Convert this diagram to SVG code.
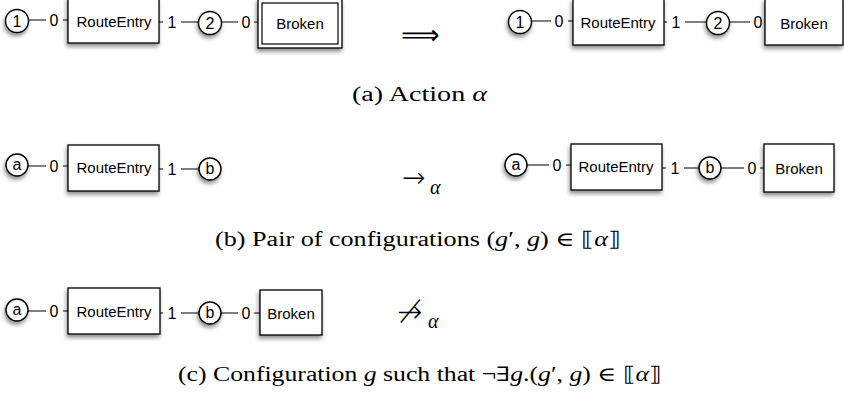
<svg xmlns="http://www.w3.org/2000/svg" width="844" height="403" viewBox="0 0 844 403">
<defs>
<filter id="sh" x="-30%" y="-30%" width="160%" height="170%">
<feDropShadow dx="-1" dy="3" stdDeviation="2" flood-color="#000" flood-opacity="0.45"/>
</filter>
<style>
.box{fill:#fff;stroke:#000;stroke-width:1.3}
.inner{fill:none;stroke:#000;stroke-width:1.2}
.port{fill:#fff;stroke:#000;stroke-width:1.4}
.edge{stroke:#000;stroke-width:1.2;fill:none}
.lbg{fill:#fff}
.t{font-family:"Liberation Sans",Arial,sans-serif;font-size:15px;fill:#000;text-anchor:middle}
.lb{font-family:"Liberation Sans",Arial,sans-serif;font-size:16px;fill:#000;text-anchor:middle}
.pt{font-family:"Liberation Sans",Arial,sans-serif;font-size:16px;fill:#000;text-anchor:middle}
.cap{font-family:"Liberation Serif","DejaVu Serif",serif;font-size:20px;fill:#000}
.m{font-style:italic}
.sym{font-family:"DejaVu Sans","Liberation Serif",serif;font-weight:200;fill:#000}
</style>
</defs>

<!-- connectors -->
<g id="connectors">
<line class="edge" x1="29" y1="20" x2="68" y2="20"/>
<line class="edge" x1="159" y1="22" x2="198" y2="22"/>
<line class="edge" x1="222" y1="22" x2="258" y2="22"/>
<line class="edge" x1="532" y1="21" x2="573" y2="21"/>
<line class="edge" x1="664" y1="22" x2="706" y2="22"/>
<line class="edge" x1="730" y1="22" x2="765" y2="22"/>
<line class="edge" x1="28" y1="166" x2="68" y2="166"/>
<line class="edge" x1="159" y1="169" x2="199" y2="169"/>
<line class="edge" x1="527" y1="165" x2="571" y2="165"/>
<line class="edge" x1="662" y1="168" x2="699" y2="168"/>
<line class="edge" x1="721" y1="168" x2="764" y2="168"/>
<line class="edge" x1="28" y1="311" x2="68" y2="311"/>
<line class="edge" x1="160" y1="313" x2="199" y2="313"/>
<line class="edge" x1="221" y1="313" x2="260" y2="313"/>
<rect class="lbg" x="46" y="11" width="17" height="18"/><text class="lb" x="54" y="26">0</text>
<rect class="lbg" x="163" y="13" width="18" height="18"/><text class="lb" x="172" y="28">1</text>
<rect class="lbg" x="238" y="13" width="16" height="18"/><text class="lb" x="246" y="28">0</text>
<rect class="lbg" x="551" y="12" width="17" height="18"/><text class="lb" x="559" y="27">0</text>
<rect class="lbg" x="667" y="13" width="18" height="18"/><text class="lb" x="676" y="28">1</text>
<rect class="lbg" x="750" y="13" width="14" height="18"/><text class="lb" x="758" y="28">0</text>
<rect class="lbg" x="46" y="157" width="17" height="18"/><text class="lb" x="54" y="172">0</text>
<rect class="lbg" x="163" y="160" width="18" height="18"/><text class="lb" x="172" y="175">1</text>
<rect class="lbg" x="549" y="156" width="17" height="18"/><text class="lb" x="557" y="171">0</text>
<rect class="lbg" x="666" y="159" width="18" height="18"/><text class="lb" x="675" y="174">1</text>
<rect class="lbg" x="744" y="159" width="16" height="18"/><text class="lb" x="752" y="174">0</text>
<rect class="lbg" x="46" y="302" width="17" height="18"/><text class="lb" x="54" y="317">0</text>
<rect class="lbg" x="163" y="304" width="18" height="18"/><text class="lb" x="172" y="319">1</text>
<rect class="lbg" x="238" y="304" width="16" height="18"/><text class="lb" x="246" y="319">0</text>
</g>

<!-- row a left -->
<g id="a-l-1"><circle class="port" cx="17" cy="21" r="11.5" filter="url(#sh)"/><text class="pt" x="17" y="27">1</text></g>
<g id="a-l-route"><rect class="box" x="68" y="-3" width="91" height="46" filter="url(#sh)"/><text class="t" x="114" y="27">RouteEntry</text></g>
<g id="a-l-2"><circle class="port" cx="210" cy="23" r="11.5" filter="url(#sh)"/><text class="pt" x="210" y="29">2</text></g>
<g id="a-l-broken"><rect class="box" x="258" y="-1" width="84" height="49" filter="url(#sh)"/><rect class="inner" x="262" y="3" width="76" height="41"/><text class="t" x="300" y="29">Broken</text></g>

<text id="a-arrow" class="sym" x="401" y="44" style="font-size:27px">⟹</text>

<!-- row a right -->
<g id="a-r-1"><circle class="port" cx="520" cy="22" r="11.5" filter="url(#sh)"/><text class="pt" x="520" y="28">1</text></g>
<g id="a-r-route"><rect class="box" x="573" y="-1" width="91" height="46" filter="url(#sh)"/><text class="t" x="618" y="28">RouteEntry</text></g>
<g id="a-r-2"><circle class="port" cx="718" cy="23" r="11.5" filter="url(#sh)"/><text class="pt" x="718" y="29">2</text></g>
<g id="a-r-broken"><rect class="box" x="765" y="-1" width="78" height="46" filter="url(#sh)"/><text class="t" x="804" y="29">Broken</text></g>

<text class="cap" x="352" y="101" textLength="135" lengthAdjust="spacingAndGlyphs">(a)  Action <tspan class="m">α</tspan></text>

<!-- row b left -->
<g id="b-l-a"><circle class="port" cx="17" cy="165" r="11" filter="url(#sh)"/><text class="pt" x="17" y="170">a</text></g>
<g id="b-l-route"><rect class="box" x="68" y="145" width="91" height="46" filter="url(#sh)"/><text class="t" x="114" y="173">RouteEntry</text></g>
<g id="b-l-b"><circle class="port" cx="210" cy="169" r="11" filter="url(#sh)"/><text class="pt" x="210" y="174">b</text></g>

<g id="b-arrow"><text class="sym" x="402" y="187" style="font-size:28px">→</text><text class="cap m" x="430" y="194">α</text></g>

<!-- row b right -->
<g id="b-r-a"><circle class="port" cx="516" cy="165" r="11" filter="url(#sh)"/><text class="pt" x="516" y="170">a</text></g>
<g id="b-r-route"><rect class="box" x="571" y="144" width="91" height="46" filter="url(#sh)"/><text class="t" x="616" y="172">RouteEntry</text></g>
<g id="b-r-b"><circle class="port" cx="710" cy="168" r="11" filter="url(#sh)"/><text class="pt" x="710" y="173">b</text></g>
<g id="b-r-broken"><rect class="box" x="764" y="144" width="70" height="48" filter="url(#sh)"/><text class="t" x="799" y="174">Broken</text></g>

<text class="cap" x="215" y="246" textLength="406" lengthAdjust="spacingAndGlyphs">(b)  Pair of configurations (<tspan class="m">g</tspan>′, <tspan class="m">g</tspan>) ∈ ⟦<tspan class="m">α</tspan>⟧</text>

<!-- row c -->
<g id="c-a"><circle class="port" cx="17" cy="310" r="11" filter="url(#sh)"/><text class="pt" x="17" y="315">a</text></g>
<g id="c-route"><rect class="box" x="68" y="288" width="92" height="46" filter="url(#sh)"/><text class="t" x="114" y="317">RouteEntry</text></g>
<g id="c-b"><circle class="port" cx="210" cy="313" r="11" filter="url(#sh)"/><text class="pt" x="210" y="318">b</text></g>
<g id="c-broken"><rect class="box" x="260" y="290" width="62" height="45" filter="url(#sh)"/><text class="t" x="291" y="319">Broken</text></g>

<g id="c-arrow"><text class="sym" x="397" y="322" style="font-size:30px">↛</text><text class="cap m" x="428" y="328">α</text></g>

<text class="cap" x="178" y="381" textLength="484" lengthAdjust="spacingAndGlyphs">(c)  Configuration <tspan class="m">g</tspan> such that ¬∃<tspan class="m">g</tspan>.(<tspan class="m">g</tspan>′, <tspan class="m">g</tspan>) ∈ ⟦<tspan class="m">α</tspan>⟧</text>
</svg>
